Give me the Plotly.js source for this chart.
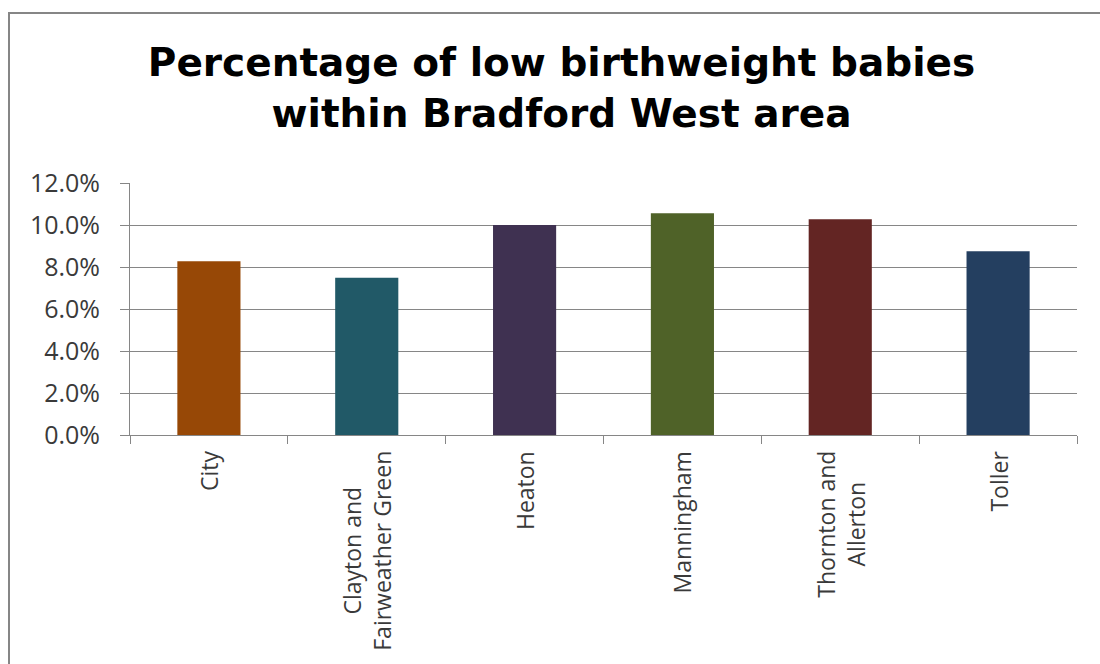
<!DOCTYPE html>
<html>
<head>
<meta charset="utf-8">
<script src="https://cdn.plot.ly/plotly-3.0.1.min.js"></script>
<style>
  html, body { margin: 0; padding: 0; background: #ffffff; overflow: hidden; }
  #wrap { position: relative; width: 1100px; height: 664px; }
  #chart { width: 1100px; height: 664px; }
  /* outer chart frame, open to the right and bottom edges */
  #frame {
    position: absolute; left: 8px; top: 12px; width: 1120px; height: 700px;
    border-left: 2px solid #868686; border-top: 2px solid #868686;
    pointer-events: none;
  }
</style>
</head>
<body>
<div id="wrap">
  <div id="chart"></div>
  <div id="frame"></div>
</div>
<script>
// Low birthweight share by ward, Bradford West
const wards = ['City', 'Clayton and Fairweather Green', 'Heaton', 'Manningham', 'Thornton and Allerton', 'Toller'];
const wardLabels = ['City', 'Clayton and<br>Fairweather Green', 'Heaton', 'Manningham', 'Thornton and<br>Allerton', 'Toller'];
const lowBirthweightShare = [0.0827, 0.0749, 0.1000, 0.1056, 0.1027, 0.0875];
const barColors = ['#974806', '#215967', '#3f3151', '#4f6228', '#632523', '#243f60'];
const yTickValues = [0, 0.02, 0.04, 0.06, 0.08, 0.10, 0.12];

const axisGrey = '#868686';
const textGrey = '#3a3a3a';

const trace = {
  type: 'bar',
  x: wards,
  y: lowBirthweightShare,
  marker: { color: barColors, line: { width: 0 } },
  hoverinfo: 'x+y',
  showlegend: false
};

// Rotated, centred category labels under each bar
const wardAnnotations = wards.map((w, i) => ({
  x: w,
  y: 0,
  xref: 'x',
  yref: 'y',
  text: wardLabels[i],
  textangle: -90,
  showarrow: false,
  xanchor: 'center',
  yanchor: 'top',
  yshift: -14,
  align: 'center',
  font: { family: 'Open Sans, sans-serif', size: 23, color: textGrey }
}));

const layout = {
  width: 1100,
  height: 664,
  margin: { l: 130, r: 23, t: 183, b: 229 },
  paper_bgcolor: '#ffffff',
  plot_bgcolor: '#ffffff',
  bargap: 0.6,
  title: {
    text: 'Percentage of low birthweight babies<br>within Bradford West area',
    font: { family: 'DejaVu Sans, sans-serif', size: 39, color: '#000000', weight: 700 },
    xref: 'container',
    yref: 'container',
    x: 0.5105,
    xanchor: 'center',
    y: 1 - 76 / 664,
    yanchor: 'top'
  },
  xaxis: {
    type: 'category',
    showticklabels: false,
    showgrid: false,
    showline: true,
    linecolor: axisGrey,
    linewidth: 1,
    ticks: 'outside',
    tickson: 'boundaries',
    ticklen: 8,
    tickcolor: axisGrey,
    tickwidth: 1,
    fixedrange: true
  },
  yaxis: {
    range: [0, 0.12],
    tickvals: yTickValues,
    tickformat: '.1%',
    showline: true,
    linecolor: axisGrey,
    linewidth: 1,
    showgrid: true,
    gridcolor: axisGrey,
    gridwidth: 1,
    zeroline: false,
    ticks: 'outside',
    ticklen: 9,
    tickcolor: axisGrey,
    tickwidth: 1,
    ticklabelstandoff: 15,
    tickfont: { family: 'Open Sans, sans-serif', size: 25, color: textGrey },
    fixedrange: true
  },
  annotations: wardAnnotations
};

Plotly.newPlot('chart', [trace], layout, { displayModeBar: false, staticPlot: true });
</script>
</body>
</html>
